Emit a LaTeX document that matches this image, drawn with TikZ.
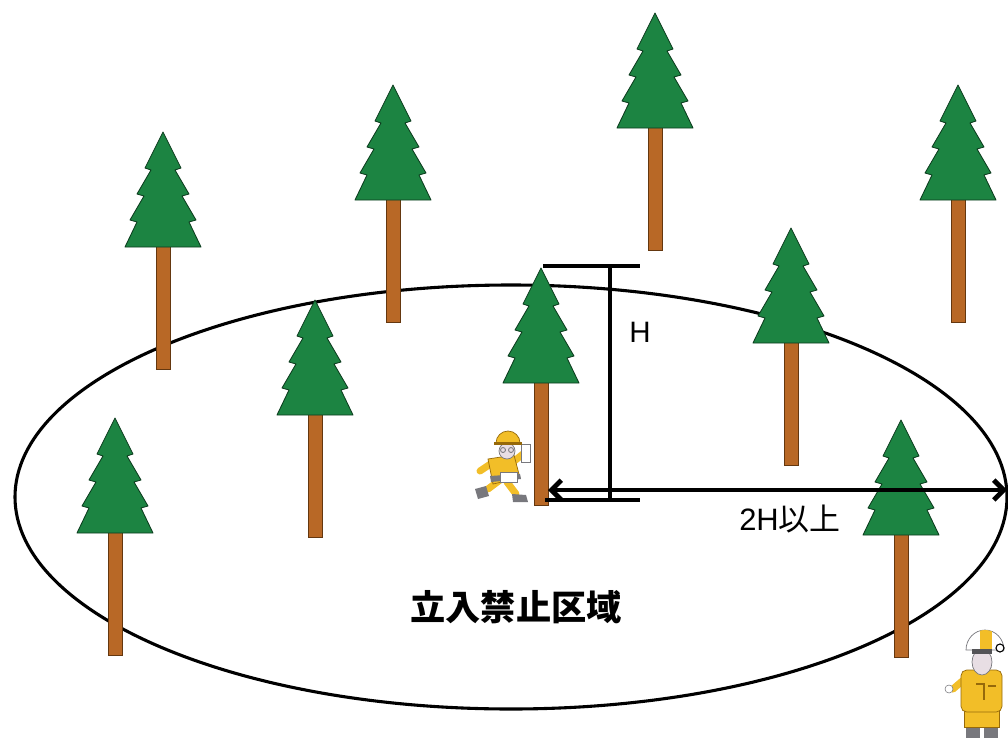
\documentclass[tikz,border=0pt]{standalone}
\usepackage{fontspec}
\setmainfont{Liberation Sans}
\newfontfamily\cjk{Noto Sans CJK JP}
\usetikzlibrary{arrows.meta}

\definecolor{needle}{RGB}{28,132,66}
\definecolor{needledark}{RGB}{12,60,30}
\definecolor{bark}{RGB}{184,104,38}
\definecolor{barkdark}{RGB}{100,55,15}
\definecolor{suit}{RGB}{242,190,40}
\definecolor{suitdark}{RGB}{150,105,10}
\definecolor{boot}{RGB}{120,120,125}
\definecolor{skin}{RGB}{232,222,228}

\tikzset{
  % one conifer, drawn from its tip downwards
  pine/.pic={
    \draw[fill=bark, draw=barkdark, line width=0.6pt] (-7,105) rectangle (7,237);
    \draw[fill=needle, draw=needledark, line width=0.6pt, line join=round]
      (0,0) -- (18,36) -- (12,38) -- (26,62) -- (19,64) -- (33,88) -- (26,90)
      -- (38,115) -- (-38,115) -- (-26,90) -- (-33,88) -- (-19,64) -- (-26,62)
      -- (-12,38) -- (-18,36) -- cycle;
  },
  dimline/.style={line width=3pt},
  limb/.style={line width=5pt, suit, line cap=round},
  outl/.style={draw=suitdark, line width=0.5pt},
}

\begin{document}
\begin{tikzpicture}[x=0.025cm, y=-0.025cm]
  \useasboundingbox (0,0) rectangle (1008,738);

  % restricted zone
  \draw[line width=2.2pt] (511,497) ellipse (496 and 212);

  % trees
  \foreach \tx/\ty in {163/132, 393/85, 655/13, 958/85, 315/300,
                       541/268, 791/228, 115/418, 901/420}
    \pic at (\tx,\ty) {pine};

  % height of the felled tree
  \coordinate (htopL) at (543,266);
  \coordinate (htopR) at (640,266);
  \coordinate (hbotL) at (545,500);
  \coordinate (hbotR) at (640,500);
  \coordinate (hmidT) at (610,266);
  \coordinate (hmidB) at (610,500);
  \draw[dimline] (htopL) -- (htopR);
  \draw[dimline] (hbotL) -- (hbotR);
  \draw[dimline] (hmidT) -- (hmidB);
  \node (hlabel) at (640,332) {\fontsize{21}{21}\selectfont H};

  % distance to the edge of the zone
  \coordinate (base) at (548,490);
  \coordinate (edge) at (1007,490);
  \draw[line width=3.4pt, {Straight Barb[length=7pt,width=14pt]}-{Straight Barb[length=7pt,width=14pt]}]
    (base) -- (edge);
  \node (distlabel) at (790,519) {\fontsize{22}{22}\selectfont 2H{\cjk 以上}};

  \node (zone) at (516,607) {\fontsize{25}{25}\selectfont\cjk\bfseries 立入禁止区域};

  % feller, running away
  \begin{scope}
    \draw[limb] (500,480) -- (488,489);
    \draw[limb] (507,482) -- (516,494);
    \fill[boot] (475,489) -- (486,486) -- (489,496) -- (478,499) -- cycle;
    \fill[boot] (512,494) -- (526,495) -- (528,502) -- (513,502) -- cycle;
    \draw[limb] (492,463) -- (480,471);
    \draw[limb] (513,462) -- (523,454);
    \draw[fill=suit, outl] (488,459) -- (514,455) -- (520,478) -- (493,484) -- cycle;
    \fill[boot] (490,476) -- (520,474) -- (521,479) -- (491,482) -- cycle;
    \draw[fill=white, draw=boot, line width=0.4pt] (500,472) rectangle (517,482);
    \draw[fill=white, draw=boot, line width=0.4pt] (521,444) rectangle (530,462);
    \draw[fill=skin, draw=boot, line width=0.5pt] (507,451) circle (8);
    \draw[boot, line width=0.6pt] (503,450) circle (2.5) (511,450) circle (2.5);
    \draw[fill=suit, outl] (496,443) arc (180:360:12) -- cycle;
    \fill[suitdark] (494,442) rectangle (522,445);
  \end{scope}

  % onlooker at the edge of the zone
  \begin{scope}
    \fill[boot] (966,724) rectangle (980,738);
    \fill[boot] (984,724) rectangle (998,738);
    \draw[fill=suit, outl] (964,704) rectangle (999,727);
    \draw[limb] (967,677) -- (953,689);
    \draw[fill=white, draw=boot, line width=0.4pt] (949,689) circle (4);
    \draw[fill=suit, outl, rounded corners=4pt] (961,670) rectangle (1002,712);
    \draw[suitdark, line width=0.8pt] (976,684) -- (984,684) -- (984,700) (988,686) -- (996,686);
    \draw[fill=skin, draw=boot, line width=0.5pt] (982,662) ellipse (10 and 13);
    \draw[fill=white, draw=boot, line width=0.5pt] (966,650) arc (180:360:19 and 20) -- cycle;
    \begin{scope}
      \clip (966,650) arc (180:360:19 and 20) -- cycle;
      \fill[suit] (980,628) rectangle (992,650);
    \end{scope}
    \fill[boot!70!black] (972,649) rectangle (992,654);
    \draw[fill=white, draw=black, line width=0.8pt] (1000,648) circle (4);
  \end{scope}
\end{tikzpicture}
\end{document}
